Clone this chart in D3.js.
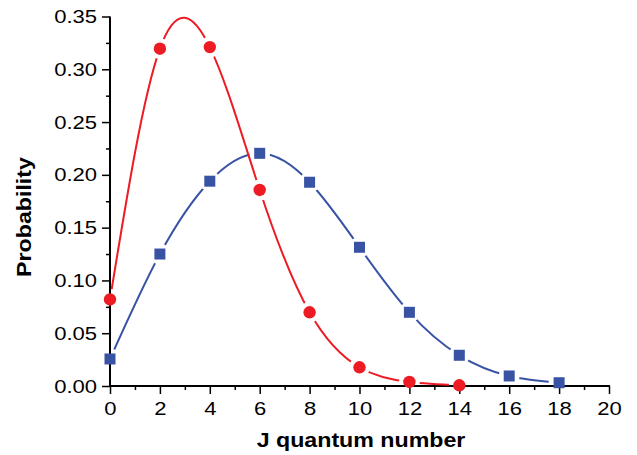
<!DOCTYPE html>
<html><head><meta charset="utf-8">
<script src="https://cdn.jsdelivr.net/npm/d3@7"></script>
<style>body{margin:0;background:#fff}svg{display:block}</style>
</head><body>
<svg id="c" width="637" height="455"></svg>
<script>
const redX = [0, 2, 4, 6, 8, 10, 12, 14];
const redY = [0.082, 0.3195, 0.321, 0.1857, 0.0698, 0.0177, 0.0038, 0.0007];
const blueX = [0, 2, 4, 6, 8, 10, 12, 14, 16, 18];
const blueY = [0.0256, 0.125, 0.194, 0.2204, 0.193, 0.1314, 0.0698, 0.0291, 0.0095, 0.0031];
const xTicks = [0, 2, 4, 6, 8, 10, 12, 14, 16, 18, 20];
const yTicks = [0, 0.05, 0.10, 0.15, 0.20, 0.25, 0.30, 0.35];
const xTitle = "J quantum number";
const yTitle = "Probability";

const svg = d3.select("#c");
const x = d3.scaleLinear().domain([0, 20]).range([110, 609]);
const y = d3.scaleLinear().domain([0, 0.35]).range([386, 16.5]);
const font = "Liberation Sans, Arial, sans-serif";
const SX = 1.16; // horizontal stretch of the reference lettering

const xAxis = d3.axisBottom(x).tickValues(xTicks).tickSize(8).tickPadding(7.5).tickFormat(d3.format("d"));
const xMinor = d3.axisBottom(x).tickValues(d3.range(1, 20, 2)).tickSize(4).tickFormat("");
const yAxis = d3.axisLeft(y).tickValues(yTicks).tickSize(8).tickPadding(5).tickFormat(d3.format(".2f"));
const yMinor = d3.axisLeft(y).tickValues(d3.range(0.025, 0.35, 0.05)).tickSize(4).tickFormat("");

function style(g){
  g.selectAll("path.domain").attr("stroke","#000").attr("stroke-width",2);
  g.selectAll(".tick line").attr("stroke","#000").attr("stroke-width",1.5);
  g.selectAll(".tick text").attr("fill","#000").style("font-family",font).style("font-size","19px");
}
const gxm = svg.append("g").attr("transform","translate(0,386)").call(xMinor); style(gxm); gxm.select("path.domain").remove();
const gym = svg.append("g").attr("transform","translate(110,0)").call(yMinor); style(gym); gym.select("path.domain").remove();
const gx = svg.append("g").attr("transform","translate(0,386)").call(xAxis); style(gx);
const gy = svg.append("g").attr("transform","translate(110,0)").call(yAxis); style(gy);
gx.select("path.domain").attr("d", `M${x(0)-1},0H${x(20)+1}`);
gy.select("path.domain").attr("d", `M0,${y(0)+1}V${y(0.35)}`);
gx.selectAll(".tick text").attr("transform", `scale(${SX},1)`);
gy.selectAll(".tick text").each(function(){
  const t = d3.select(this);
  t.attr("x", -13 / SX).attr("transform", `scale(${SX},1)`);
});

svg.append("text").attr("transform", `translate(361,447) scale(${SX},1)`).attr("text-anchor","middle")
  .style("font-family",font).style("font-size","20px").style("font-weight","bold").text(xTitle);
svg.append("text").attr("transform", `translate(30.5,217) rotate(-90) scale(${SX},1)`).attr("text-anchor","middle")
  .style("font-family",font).style("font-size","20px").style("font-weight","bold").text(yTitle);

const defs = svg.append("defs");
function series(xs, ys, color, id, shape){
  const pts = xs.map((d,i)=>[d, ys[i]]);
  const m = defs.append("mask").attr("id", id).attr("maskUnits","userSpaceOnUse")
    .attr("x",0).attr("y",0).attr("width",637).attr("height",455);
  m.append("rect").attr("width",637).attr("height",455).attr("fill","#fff");
  m.selectAll("circle").data(pts).join("circle")
    .attr("cx", d=>x(d[0])).attr("cy", d=>y(d[1])).attr("r", 10.5).attr("fill","#000");
  const line = d3.line().x(d=>x(d[0])).y(d=>y(d[1])).curve(d3.curveNatural);
  svg.append("path").attr("d", line(pts)).attr("fill","none").attr("stroke",color)
    .attr("stroke-width",2).attr("mask",`url(#${id})`);
  if (shape === "circle") {
    svg.append("g").selectAll("circle").data(pts).join("circle")
      .attr("cx", d=>x(d[0])).attr("cy", d=>y(d[1])).attr("r", 6.2).attr("fill", color);
  } else {
    svg.append("g").selectAll("rect").data(pts).join("rect")
      .attr("x", d=>x(d[0])-5.5).attr("y", d=>y(d[1])-5.5).attr("width",11).attr("height",11).attr("fill", color);
  }
}
series(blueX, blueY, "#3953a4", "mb", "square");
series(redX, redY, "#ed1c24", "mr", "circle");
</script>
</body></html>
